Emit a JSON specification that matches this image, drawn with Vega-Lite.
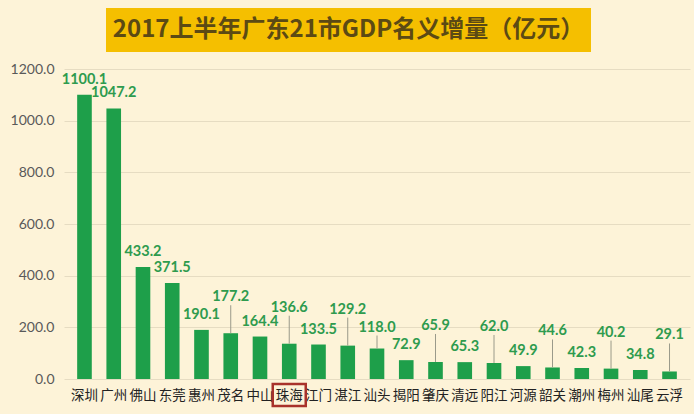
{
  "$schema": "https://vega.github.io/schema/vega-lite/v6.json",
  "background": "#FDF3D8",
  "padding": {"top": 8, "left": 10, "right": 4, "bottom": 4},
  "config": {
    "view": {"stroke": null},
    "font": "Lato",
    "axis": {"gridColor": "#E6DCC2", "domain": false, "ticks": false}
  },
  "data": {
    "values": [
      {"city": "深圳", "value": 1100.1},
      {"city": "广州", "value": 1047.2},
      {"city": "佛山", "value": 433.2},
      {"city": "东莞", "value": 371.5},
      {"city": "惠州", "value": 190.1},
      {"city": "茂名", "value": 177.2},
      {"city": "中山", "value": 164.4},
      {"city": "珠海", "value": 136.6},
      {"city": "江门", "value": 133.5},
      {"city": "湛江", "value": 129.2},
      {"city": "汕头", "value": 118.0},
      {"city": "揭阳", "value": 72.9},
      {"city": "肇庆", "value": 65.9},
      {"city": "清远", "value": 65.3},
      {"city": "阳江", "value": 62.0},
      {"city": "河源", "value": 49.9},
      {"city": "韶关", "value": 44.6},
      {"city": "潮州", "value": 42.3},
      {"city": "梅州", "value": 40.2},
      {"city": "汕尾", "value": 34.8},
      {"city": "云浮", "value": 29.1}
    ]
  },
  "vconcat": [
    {
      "hconcat": [
        {
          "width": 32,
          "height": 44,
          "mark": {"type": "text", "text": ""},
          "encoding": {},
          "transform": [{"filter": "datum.city === '深圳'"}]
        },
        {
          "width": 485,
          "height": 44,
          "view": {"fill": "#F5BF00", "stroke": null},
          "mark": {
            "type": "text",
            "text": "2017上半年广东21市GDP名义增量（亿元）",
            "font": "Noto Sans CJK SC",
            "fontWeight": "bold",
            "fontSize": 24,
            "color": "#5C4A14",
            "align": "center",
            "baseline": "middle"
          },
          "encoding": {},
          "transform": [{"filter": "datum.city === '深圳'"}]
        }
      ],
      "spacing": 10
    },
    {
      "width": 626,
      "height": 310,
      "encoding": {
        "x": {
          "field": "city",
          "type": "nominal",
          "sort": null,
          "scale": {"paddingInner": 0.5, "paddingOuter": 0.45},
          "axis": {
            "title": null,
            "labelAngle": 0,
            "labelFont": "Noto Sans CJK SC",
            "labelFontSize": 13.5,
            "labelColor": "#222222",
            "labelPadding": 9,
            "grid": false
          }
        },
        "y": {
          "field": "value",
          "type": "quantitative",
          "scale": {"domain": [0, 1200]},
          "axis": {
            "title": null,
            "values": [0, 200, 400, 600, 800, 1000, 1200],
            "format": ".1f",
            "labelFontSize": 14,
            "labelColor": "#595959",
            "labelPadding": 10,
            "grid": true
          }
        }
      },
      "layer": [
        {"mark": {"type": "bar", "color": "#1E9F4A"}},
        {
          "transform": [{"filter": {"field": "city", "oneOf": ["茂名", "珠海", "湛江", "肇庆", "阳江", "韶关", "梅州", "云浮"]}}],
          "mark": {"type": "rule", "color": "#9A9A8A", "strokeWidth": 1, "y2Offset": -28},
          "encoding": {"y2": {"field": "value"}}
        },
        {
          "transform": [{"filter": {"field": "city", "oneOf": ["汕头"]}}],
          "mark": {"type": "rule", "color": "#9A9A8A", "strokeWidth": 1, "y2Offset": -13},
          "encoding": {"y2": {"field": "value"}}
        },
        {
          "transform": [{"filter": {"not": {"field": "city", "oneOf": ["茂名", "珠海", "湛江", "肇庆", "阳江", "韶关", "梅州", "云浮", "汕头"]}}}],
          "mark": {"type": "text", "baseline": "middle", "dy": -15, "fontWeight": "bold", "fontSize": 14.5, "color": "#2E9B4E"},
          "encoding": {"text": {"field": "value", "type": "quantitative", "format": ".1f"}}
        },
        {
          "transform": [{"filter": {"field": "city", "oneOf": ["汕头"]}}],
          "mark": {"type": "text", "baseline": "middle", "dy": -21, "fontWeight": "bold", "fontSize": 14.5, "color": "#2E9B4E"},
          "encoding": {"text": {"field": "value", "type": "quantitative", "format": ".1f"}}
        },
        {
          "transform": [{"filter": {"field": "city", "oneOf": ["茂名", "珠海", "湛江", "肇庆", "阳江", "韶关", "梅州", "云浮"]}}],
          "mark": {"type": "text", "baseline": "middle", "dy": -36, "fontWeight": "bold", "fontSize": 14.5, "color": "#2E9B4E"},
          "encoding": {"text": {"field": "value", "type": "quantitative", "format": ".1f"}}
        },
        {
          "transform": [{"filter": {"field": "city", "oneOf": ["珠海"]}}],
          "mark": {
            "type": "point",
            "shape": "M-1,-0.67H1V0.67H-1Z",
            "size": 1089,
            "filled": false,
            "stroke": "#A8322B",
            "strokeWidth": 2.5,
            "opacity": 1,
            "yOffset": 16
          },
          "encoding": {"y": {"datum": 0}}
        }
      ]
    }
  ],
  "spacing": 10
}
